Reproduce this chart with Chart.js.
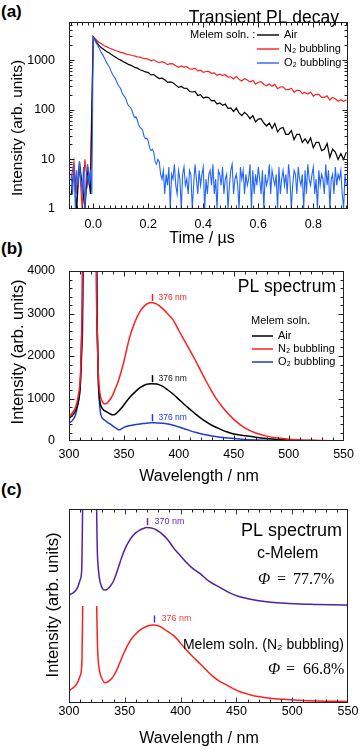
<!DOCTYPE html>
<html>
<head>
<meta charset="utf-8">
<script src="https://cdn.jsdelivr.net/npm/chart.js@4.4.1/dist/chart.umd.min.js"></script>
<style>
  body { margin: 0; background: #fff; }
  #wrap { position: relative; width: 360px; height: 750px; overflow: hidden; font-family: 'Liberation Sans', Arial, sans-serif; }
  canvas { position: absolute; left: 0; }
  .tag { position: absolute; left: 1px; font-weight: bold; font-size: 17px; line-height: 20px; }
</style>
</head>
<body>
<div id="wrap">
  <div class="tag" style="top:2px">(a)</div>
  <div class="tag" style="top:239px">(b)</div>
  <div class="tag" style="top:480px">(c)</div>
  <canvas id="decay" width="360" height="248" style="top:0"></canvas>
  <canvas id="spec" width="360" height="240" style="top:248px"></canvas>
  <canvas id="norm" width="360" height="262" style="top:488px"></canvas>
</div>
<script>
// ---- (a) transient PL decay, counts vs time (µs)
const timeUs = [-0.08, -0.07, -0.06, -0.05, -0.04, -0.03, -0.02, -0.01,
  0.00, 0.01, 0.02, 0.03, 0.04, 0.05, 0.06, 0.07, 0.08, 0.09,
  0.10, 0.11, 0.12, 0.13, 0.14, 0.15, 0.16, 0.17, 0.18, 0.19,
  0.20, 0.21, 0.22, 0.23, 0.24, 0.25, 0.26, 0.27, 0.28, 0.29,
  0.30, 0.31, 0.32, 0.33, 0.34, 0.35, 0.36, 0.37, 0.38, 0.39,
  0.40, 0.41, 0.42, 0.43, 0.44, 0.45, 0.46, 0.47, 0.48, 0.49,
  0.50, 0.51, 0.52, 0.53, 0.54, 0.55, 0.56, 0.57, 0.58, 0.59,
  0.60, 0.61, 0.62, 0.63, 0.64, 0.65, 0.66, 0.67, 0.68, 0.69,
  0.70, 0.71, 0.72, 0.73, 0.74, 0.75, 0.76, 0.77, 0.78, 0.79,
  0.80, 0.81, 0.82, 0.83, 0.84, 0.85, 0.86, 0.87, 0.88, 0.89,
  0.90, 0.91, 0.92];

const airCounts = [2, 6, 1, 9, 3, 1, 7, 2,
  2950, 2380, 2010, 1770, 1620, 1480, 1370, 1250, 1160, 1065,
  1000, 925, 870, 810, 775, 720, 690, 640, 610, 578,
  561, 505, 513, 462, 424, 432, 401, 357, 363, 350,
  313, 284, 295, 271, 270, 233, 228, 233, 194, 201,
  172, 179, 176, 151, 155, 130, 137, 123, 130, 107,
  109, 92, 108, 86, 76, 89, 79, 66, 76, 57,
  65, 66, 54, 47, 54, 42, 53, 36, 42, 44,
  32, 32, 38, 25, 32, 32, 22, 26, 21, 27,
  17, 22, 22, 15, 16, 21, 11, 16, 14, 10,
  13, 10, 14];

const n2Counts = [4, 9, 2, 7, 1, 10, 3, 6,
  2950, 2600, 2290, 2130, 1950, 1850, 1730, 1660, 1560, 1510,
  1430, 1395, 1320, 1300, 1240, 1220, 1160, 1145, 1090, 1075,
  1050, 972, 1015, 940, 887, 927, 885, 809, 847, 839,
  770, 719, 767, 725, 740, 666, 661, 689, 608, 628,
  570, 590, 591, 542, 554, 492, 520, 491, 507, 456,
  462, 418, 472, 409, 378, 420, 397, 360, 390, 327,
  359, 367, 324, 303, 329, 296, 324, 266, 287, 290,
  253, 254, 272, 224, 246, 245, 212, 224, 208, 228,
  187, 204, 204, 178, 178, 191, 157, 176, 167, 149,
  160, 146, 160];

// O2 trace is sampled more finely (its noise floor is dense in the figure)
const o2TimeUs = [-0.080, -0.075, -0.070, -0.065, -0.060, -0.055, -0.050, -0.045, -0.040, -0.035,
  -0.030, -0.025, -0.020, -0.015, -0.010, -0.005,
  0.000, 0.005, 0.010, 0.015, 0.020, 0.025, 0.030, 0.035, 0.040, 0.045,
  0.050, 0.055, 0.060, 0.065, 0.070, 0.075, 0.080, 0.085, 0.090, 0.095,
  0.100, 0.105, 0.110, 0.115, 0.120, 0.125, 0.130, 0.135, 0.140, 0.145,
  0.150, 0.155, 0.160, 0.165, 0.170, 0.175, 0.180, 0.185, 0.190, 0.195,
  0.200, 0.205, 0.210, 0.215, 0.220, 0.225, 0.230, 0.235, 0.240, 0.245,
  0.250, 0.255, 0.260, 0.265, 0.270, 0.275, 0.280, 0.285, 0.290, 0.295,
  0.300, 0.305, 0.310, 0.315, 0.320, 0.325, 0.330, 0.335, 0.340, 0.345,
  0.350, 0.355, 0.360, 0.365, 0.370, 0.375, 0.380, 0.385, 0.390, 0.395,
  0.400, 0.405, 0.410, 0.415, 0.420, 0.425, 0.430, 0.435, 0.440, 0.445,
  0.450, 0.455, 0.460, 0.465, 0.470, 0.475, 0.480, 0.485, 0.490, 0.495,
  0.500, 0.505, 0.510, 0.515, 0.520, 0.525, 0.530, 0.535, 0.540, 0.545,
  0.550, 0.555, 0.560, 0.565, 0.570, 0.575, 0.580, 0.585, 0.590, 0.595,
  0.600, 0.605, 0.610, 0.615, 0.620, 0.625, 0.630, 0.635, 0.640, 0.645,
  0.650, 0.655, 0.660, 0.665, 0.670, 0.675, 0.680, 0.685, 0.690, 0.695,
  0.700, 0.705, 0.710, 0.715, 0.720, 0.725, 0.730, 0.735, 0.740, 0.745,
  0.750, 0.755, 0.760, 0.765, 0.770, 0.775, 0.780, 0.785, 0.790, 0.795,
  0.800, 0.805, 0.810, 0.815, 0.820, 0.825, 0.830, 0.835, 0.840, 0.845,
  0.850, 0.855, 0.860, 0.865, 0.870, 0.875, 0.880, 0.885, 0.890, 0.895,
  0.900, 0.905, 0.910, 0.915, 0.920];

const o2Counts = [5, 2, 8, 1, 6, 3, 9, 4, 2, 7,
  1, 5, 8, 3, 6, 2,
  2950, 2600, 2250, 2050, 1820, 1600, 1400, 1260, 1120, 980,
  860, 780, 700, 600, 520, 470, 430, 365, 320, 290,
  265, 220, 195, 180, 160, 130, 118, 112, 100, 82,
  70, 72, 62, 50, 44, 42, 38, 29, 26, 27,
  23, 17, 15, 16, 14, 9, 8, 10, 9, 5,
  4, 6, 2, 5, 3, 7, 1, 5, 4, 8,
  3, 2, 6, 4, 1, 5, 7, 3, 4, 2,
  6, 5, 1, 3, 8, 4, 2, 6, 3, 5,
  7, 1, 4, 2, 5, 6, 3, 8, 2, 4,
  1, 6, 5, 3, 7, 2, 4, 5, 1, 3,
  6, 8, 2, 4, 5, 3, 1, 7, 4, 6,
  2, 5, 3, 4, 8, 1, 6, 2, 5, 3,
  7, 4, 2, 6, 1, 5, 3, 4, 8, 2,
  6, 4, 3, 5, 1, 7, 2, 4, 6, 3,
  5, 2, 8, 4, 1, 3, 6, 5, 2, 7,
  4, 3, 5, 1, 6, 2, 8, 4, 3, 5,
  7, 2, 4, 1, 6, 3, 5, 4, 2, 8,
  3, 6, 1, 4, 5, 2, 7, 3, 5, 4,
  6, 2, 1, 5, 3];

const decayXTicks = [0, 0.2, 0.4, 0.6, 0.8];
const decayYTicks = [1, 10, 100, 1000];

// ---- (b) PL spectra of melem solution
const airWl = [300, 303, 306, 309, 310.5, 311.5, 312.5, 319, 325, 325.8, 326.8, 328,
  330, 332, 334, 336, 338, 340, 342, 345, 348, 350, 355, 360, 365, 370, 375, 380,
  385, 390, 395, 400, 405, 410, 415, 420, 425, 430, 435, 440, 445, 450,
  460, 470, 480, 490, 500, 510, 520, 530, 540, 550];
const airPL = [520, 600, 720, 1000, 1450, 2400, 4500, 100000, 4500, 2500, 1400, 950,
  780, 720, 690, 660, 630, 615, 625, 700, 780, 850, 1020, 1150, 1260, 1330, 1350, 1340,
  1290, 1200, 1100, 980, 860, 750, 640, 540, 450, 370, 310, 250, 205, 165,
  125, 88, 58, 36, 22, 14, 9, 6, 4, 3];

const n2Wl = [300, 303, 306, 309, 310.5, 311.5, 312.3, 319, 324.8, 325.5, 326.5, 328,
  330, 332, 334, 336, 338, 340, 342, 345, 348, 350, 355, 360, 365, 370, 375, 380,
  385, 390, 395, 400, 405, 410, 415, 420, 425, 430, 435, 440, 445, 450,
  460, 470, 480, 490, 500, 510, 520, 530, 540, 550];
const n2PL = [580, 660, 800, 1150, 1600, 2600, 4500, 100000, 4500, 2800, 1700, 1150,
  950, 875, 880, 930, 1000, 1090, 1220, 1420, 1680, 1870, 2420, 2800, 3060, 3210, 3260, 3220,
  3120, 2990, 2840, 2600, 2370, 2140, 1900, 1650, 1400, 1170, 960, 790, 640, 510,
  310, 190, 115, 68, 40, 25, 15, 10, 7, 5];

const o2Wl = [300, 303, 306, 308, 310, 311.5, 313, 319, 325.4, 326.2, 327.5, 329,
  332, 335, 338, 341, 344, 345.7, 348, 350, 355, 360, 365, 370, 375, 380, 385, 390,
  395, 400, 405, 410, 415, 420, 425, 430, 435, 440, 445, 450,
  460, 470, 480, 490, 500, 510, 520, 530, 540, 550];
const o2PL = [420, 480, 620, 850, 1200, 2000, 4500, 100000, 4500, 2000, 1000, 620,
  500, 440, 390, 330, 280, 262, 290, 320, 360, 385, 400, 420, 430, 425, 418, 400,
  370, 330, 290, 245, 205, 172, 145, 120, 100, 82, 68, 56,
  38, 26, 18, 12, 8, 6, 4, 3, 2, 2];

const peakWlB = [376, 376, 376];       // N2, Air, O2
const peakHeightB = [3260, 1350, 430];

// ---- (c) normalised spectra, offset
const cMelemWl = [300, 303, 306, 308, 310, 311.5, 312.3, 318, 324.6, 325.3, 326.5, 328,
  330, 332, 334, 336, 338, 340, 342, 344, 346, 348, 350, 352, 354, 356, 358, 360, 363, 366, 369.4,
  372, 375, 378, 381, 384, 387.3, 390, 393, 396, 399.3, 402, 405, 410, 417.2, 425, 435.2,
  445, 453.1, 465, 477, 490, 507, 520, 535, 550];
const cMelemPL = [55.7, 56.5, 58, 60, 63.5, 70, 105, 300, 105, 80, 68, 62,
  59, 58.2, 58.6, 59.5, 61, 63, 66, 69.5, 73, 76.3, 79.2, 81.6, 83.6, 85.3, 86.7, 87.8, 89, 89.8, 90.4,
  90.3, 90, 89.3, 88.2, 86.8, 84.9, 83, 80.5, 78.3, 76.3, 74.5, 72.5, 69.8, 66.8, 63, 59.6,
  56.5, 54.8, 53.2, 52.2, 51.5, 51, 50.8, 50.6, 50.5];

const solnWl = [300, 303, 306, 308, 310, 311.5, 312.3, 318, 324.8, 325.5, 326.5, 328,
  330, 332, 334, 336, 338, 340, 342, 344, 346, 348, 350, 352, 354, 357, 360, 363, 366.4, 371, 375.4,
  380, 384.3, 388, 393.3, 399, 405.2, 411, 417.2, 423, 429.2, 435, 441.1, 447, 453.1,
  462, 471, 480, 492, 505, 522, 535, 550];
const solnPL = [6.3, 7.6, 9, 11, 14, 20.5, 50, null, 50, 30, 20, 15,
  12, 10.5, 10.7, 11.4, 12.5, 14, 16, 18.6, 21.4, 24.2, 26.8, 29.2, 31.3, 33.8, 35.7, 37.3, 38.6, 39.8, 40.2,
  39.8, 38.5, 37, 35, 31.5, 27.3, 23.8, 20.4, 17, 13.6, 11.2, 9.3, 7.4, 5.8,
  4.3, 3.2, 2.5, 1.9, 1.4, 1.0, 0.9, 0.8];

const peakWlC = [370, 376];
const peakHeightC = [90.4, 40.2];

const wlTicks = [300, 350, 400, 450, 500, 550];

// ---- styling
const SANS = "'Liberation Sans', Arial, sans-serif";
const NARROW = "'Liberation Sans Narrow', 'Liberation Sans', Arial, sans-serif";
const blackC = '#000000';
const redC = '#ff1e1e';
const blueA = '#2465ff';
const blueB = '#1f3cd8';
const purpleC = '#4f22a6';

const pts = (xs, ys) => xs.map((x, i) => ({x: x, y: ys[i]}));
const steps = (from, to, step) => {
  const out = [];
  for (let v = from; v <= to + 1e-9; v += step) out.push(+v.toFixed(4));
  return out;
};
const logMinor = [];
[1, 10, 100, 1000].forEach(d => { for (let m = 2; m <= 9; m++) logMinor.push(m * d); });

function text(ctx, str, x, y, font, color, align) {
  ctx.font = font;
  ctx.fillStyle = color || '#000';
  ctx.textAlign = align || 'left';
  ctx.textBaseline = 'middle';
  ctx.fillText(str, x, y);
}
function vtext(ctx, str, x, y, font) {
  ctx.save();
  ctx.translate(x, y);
  ctx.rotate(-Math.PI / 2);
  text(ctx, str, 0, 0, font, '#000', 'center');
  ctx.restore();
}
function legendRow(ctx, x0, x1, y, color, label, width) {
  ctx.strokeStyle = color;
  ctx.lineWidth = width;
  ctx.beginPath();
  ctx.moveTo(x0, y); ctx.lineTo(x1, y);
  ctx.stroke();
  text(ctx, label, x1 + 5, y, '11px ' + SANS, '#000');
}

// frame + inward ticks on the plot box
const frameTicks = {
  id: 'frameTicks',
  afterDatasetsDraw(chart, args, o) {
    const {ctx, chartArea: a, scales} = chart;
    const L = Math.round(a.left) + 0.5, R = Math.round(a.right) - 0.5;
    const T = Math.round(a.top) + 0.5, B = Math.round(a.bottom) - 0.5;
    ctx.save();
    ctx.lineWidth = 1;
    const xt = (vals, len, color) => {
      ctx.strokeStyle = color; ctx.beginPath();
      vals.forEach(v => {
        const p = Math.round(scales.x.getPixelForValue(v)) + 0.5;
        if (p < L - 0.1 || p > R + 0.1) return;
        ctx.moveTo(p, B); ctx.lineTo(p, B - len);
        ctx.moveTo(p, T); ctx.lineTo(p, T + len);
      });
      ctx.stroke();
    };
    const yt = (vals, len, color) => {
      ctx.strokeStyle = color; ctx.beginPath();
      vals.forEach(v => {
        const p = Math.round(scales.y.getPixelForValue(v)) + 0.5;
        if (p < T - 0.1 || p > B + 0.1) return;
        ctx.moveTo(L, p); ctx.lineTo(L + len, p);
        ctx.moveTo(R, p); ctx.lineTo(R - len, p);
      });
      ctx.stroke();
    };
    if (o.xMinor) xt(o.xMinor, 3, '#222');
    if (o.xMajor) xt(o.xMajor, 5, o.majorColor || '#222');
    if (o.yMinor) yt(o.yMinor, 3, '#222');
    if (o.yMajor) yt(o.yMajor, 5, '#222');
    ctx.strokeStyle = '#222';
    ctx.strokeRect(L, T, R - L, B - T);
    ctx.restore();
  }
};

function baseScales(o) {
  return {
    x: {
      type: 'linear', min: o.xmin, max: o.xmax,
      grid: {display: false, drawTicks: false}, border: {display: false},
      afterFit: s => { s.height = o.xh; },
      afterBuildTicks: s => { s.ticks = o.xticks.map(v => ({value: v})); },
      ticks: {font: {family: NARROW, size: 12.5}, color: '#000', padding: o.xpad, maxRotation: 0,
        autoSkip: false, callback: o.xfmt}
    },
    y: {
      type: o.ytype || 'linear', min: o.ymin, max: o.ymax,
      grid: {display: false, drawTicks: false}, border: {display: false},
      afterFit: s => { s.width = 69; },
      afterBuildTicks: s => { s.ticks = (o.yticks || []).map(v => ({value: v})); },
      ticks: {display: o.yticks != null, font: {family: NARROW, size: 12.5}, color: '#000',
        padding: 14, autoSkip: false, callback: v => String(v)}
    }
  };
}
const common = {
  responsive: false, animation: false, devicePixelRatio: 1,
  plugins: {legend: {display: false}, tooltip: {enabled: false}}
};
const lineDs = (data, color, width, extra) => Object.assign({
  data: data, borderColor: color, borderWidth: width, pointRadius: 0, fill: false
}, extra || {});

// ---------- (a)
new Chart(document.getElementById('decay'), {
  type: 'line',
  data: {datasets: [
    lineDs(pts(timeUs, airCounts), blackC, 1.2, {order: 1}),
    lineDs(pts(timeUs, n2Counts), redC, 1.2, {order: 2}),
    lineDs(pts(o2TimeUs, o2Counts), blueA, 1.1, {order: 0})
  ]},
  options: Object.assign({}, common, {
    layout: {padding: {top: 4, right: 12, left: 0, bottom: 0}},
    scales: baseScales({xmin: -0.088, xmax: 0.926, xh: 39, xpad: 8, xticks: decayXTicks,
      xfmt: v => v.toFixed(1), ytype: 'logarithmic', ymin: 1, ymax: 6000, yticks: decayYTicks}),
    plugins: Object.assign({}, common.plugins, {
      frameTicks: {xMajor: decayXTicks, xMinor: steps(-0.08, 0.92, 0.02), yMajor: decayYTicks, yMinor: logMinor}
    })
  }),
  plugins: [frameTicks, {
    id: 'notesA',
    afterDraw(chart) {
      const ctx = chart.ctx;
      ctx.save();
      text(ctx, 'Transient PL decay', 339, 18, '17.5px ' + SANS, '#000', 'right');
      text(ctx, 'Melem soln. :', 190, 35, '11px ' + SANS, '#000');
      legendRow(ctx, 257, 279, 35, blackC, 'Air', 1.4);
      legendRow(ctx, 257, 279, 49, redC, 'N\u2082 bubbling', 1.4);
      legendRow(ctx, 257, 279, 63, blueA, 'O\u2082 bubbling', 1.4);
      vtext(ctx, 'Intensity (arb. units)', 18, 128, '15.5px ' + SANS);
      text(ctx, 'Time / \u00b5s', 202, 239, '16px ' + SANS, '#000', 'center');
      ctx.restore();
    }
  }]
});

// ---------- (b)
new Chart(document.getElementById('spec'), {
  type: 'line',
  data: {datasets: [
    lineDs(pts(airWl, airPL), blackC, 1.5, {cubicInterpolationMode: 'monotone', order: 1}),
    lineDs(pts(n2Wl, n2PL), redC, 1.5, {cubicInterpolationMode: 'monotone', order: 0}),
    lineDs(pts(o2Wl, o2PL), blueB, 1.5, {cubicInterpolationMode: 'monotone', order: 2})
  ]},
  options: Object.assign({}, common, {
    layout: {padding: {top: 23, right: 12, left: 0, bottom: 0}},
    scales: baseScales({xmin: 300, xmax: 550, xh: 47, xpad: 6, xticks: wlTicks, xfmt: v => String(v),
      ymin: 0, ymax: 4000, yticks: [0, 1000, 2000, 3000, 4000]}),
    plugins: Object.assign({}, common.plugins, {
      frameTicks: {xMajor: wlTicks, xMinor: steps(300, 550, 10), yMajor: [0, 1000, 2000, 3000, 4000], yMinor: steps(0, 4000, 200)}
    })
  }),
  plugins: [frameTicks, {
    id: 'notesB',
    afterDraw(chart) {
      const {ctx, scales: {x, y}} = chart;
      ctx.save();
      const cols = [redC, blackC, blueB];
      peakWlB.forEach((wl, i) => {
        const px = Math.round(x.getPixelForValue(wl)) + 0.5;
        const py = y.getPixelForValue(peakHeightB[i]) - 5;
        ctx.strokeStyle = cols[i]; ctx.lineWidth = 1.5;
        ctx.beginPath(); ctx.moveTo(px, py - 3.5); ctx.lineTo(px, py + 3.5); ctx.stroke();
        text(ctx, wl + ' nm', px + 6, py, '8.5px ' + SANS, i === 1 ? '#111' : cols[i]);
      });
      text(ctx, 'PL spectrum', 336, 39, '17.5px ' + SANS, '#000', 'right');
      text(ctx, 'Melem soln.', 251, 73, '11px ' + SANS, '#000');
      legendRow(ctx, 252, 273, 88, blackC, 'Air', 1.5);
      legendRow(ctx, 252, 273, 101, redC, 'N\u2082 bubbling', 1.5);
      legendRow(ctx, 252, 273, 114, blueB, 'O\u2082 bubbling', 1.5);
      vtext(ctx, 'Intensity (arb. units)', 18, 104, '16.5px ' + SANS);
      text(ctx, 'Wavelength / nm', 199, 229, '16px ' + SANS, '#000', 'center');
      ctx.restore();
    }
  }]
});

// ---------- (c)
new Chart(document.getElementById('norm'), {
  type: 'line',
  data: {datasets: [
    lineDs(pts(cMelemWl, cMelemPL), purpleC, 1.5, {cubicInterpolationMode: 'monotone'}),
    lineDs(pts(solnWl, solnPL), redC, 1.5, {cubicInterpolationMode: 'monotone', spanGaps: false})
  ]},
  options: Object.assign({}, common, {
    layout: {padding: {top: 21, right: 12, left: 0, bottom: 0}},
    scales: baseScales({xmin: 300, xmax: 550, xh: 47, xpad: 1, xticks: wlTicks, xfmt: v => String(v),
      ymin: 0, ymax: 100, yticks: null}),
    plugins: Object.assign({}, common.plugins, {
      frameTicks: {xMajor: wlTicks, xMinor: steps(300, 550, 10), majorColor: '#34348c'}
    })
  }),
  plugins: [frameTicks, {
    id: 'notesC',
    afterDraw(chart) {
      const {ctx, scales: {x, y}} = chart;
      ctx.save();
      const cols = ['#5a2cb4', '#ff3b3b'];
      peakWlC.forEach((wl, i) => {
        const px = Math.round(x.getPixelForValue(wl)) + 0.5;
        const py = y.getPixelForValue(peakHeightC[i]) - 6;
        ctx.strokeStyle = '#5a2cb4'; ctx.lineWidth = 1.5;
        ctx.beginPath(); ctx.moveTo(px, py - 3.5); ctx.lineTo(px, py + 3.5); ctx.stroke();
        text(ctx, wl + ' nm', px + 7, py, '9px ' + SANS, cols[i]);
      });
      text(ctx, 'PL spectrum', 342, 43, '18px ' + SANS, '#000', 'right');
      text(ctx, 'c-Melem', 257, 66, '16px ' + SANS, '#000');
      text(ctx, '\u03a6', 258, 92, 'italic 16px "Liberation Serif", serif', '#000');
      text(ctx, '=', 277, 92, '16px "Liberation Serif", serif', '#000');
      text(ctx, '77.7%', 293, 92, '16px "Liberation Serif", serif', '#000');
      text(ctx, 'Melem soln. (N\u2082 bubbling)', 344, 157, '14px ' + SANS, '#000', 'right');
      text(ctx, '\u03a6', 268, 182, 'italic 16px "Liberation Serif", serif', '#000');
      text(ctx, '=', 286, 182, '16px "Liberation Serif", serif', '#000');
      text(ctx, '66.8%', 303, 182, '16px "Liberation Serif", serif', '#000');
      vtext(ctx, 'Intensity (arb. units)', 53.5, 117, '16.5px ' + SANS);
      text(ctx, 'Wavelength / nm', 199, 251, '16px ' + SANS, '#000', 'center');
      ctx.restore();
    }
  }]
});
</script>
</body>
</html>
